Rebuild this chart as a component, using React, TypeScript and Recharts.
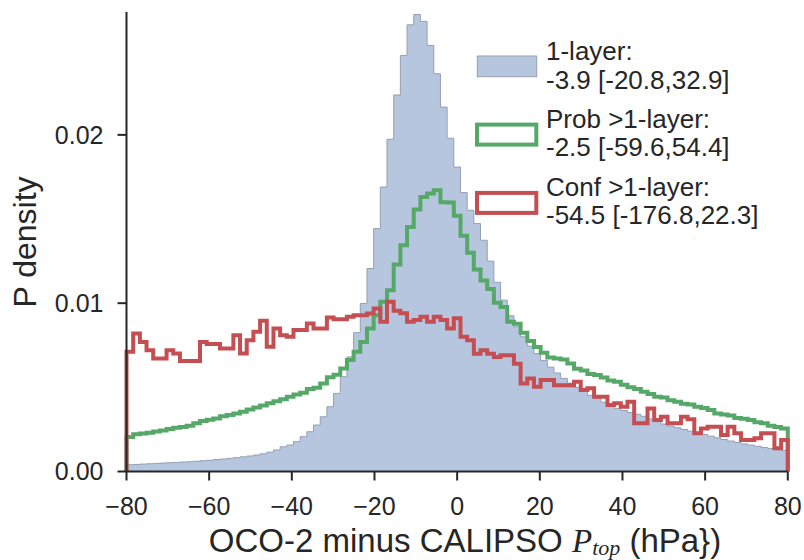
import React from 'react';
import { ComposedChart, Area, Line, XAxis, YAxis, Legend } from 'recharts';

// ---- data -------------------------------------------------------------
const X_MIN = -80;
const X_MAX = 80;
const N_BINS = 99;
const BIN_EDGES: number[] = Array.from({ length: N_BINS + 1 }, (_, i) => X_MIN + ((X_MAX - X_MIN) * i) / N_BINS);

const X_TICKS = [-80, -60, -40, -20, 0, 20, 40, 60, 80];
const Y_TICKS = [0, 0.01, 0.02];

// densities in units of 1e-2, one value per bin (left to right)
const ONE_LAYER = [
  0.040, 0.042, 0.044, 0.046, 0.048, 0.050, 0.052, 0.054, 0.056, 0.058,
  0.061, 0.064, 0.067, 0.071, 0.074, 0.078, 0.082, 0.087, 0.092, 0.098,
  0.105, 0.115, 0.128, 0.147, 0.157, 0.177, 0.207, 0.236, 0.276, 0.325,
  0.385, 0.464, 0.563, 0.681, 0.825, 0.998, 1.206, 1.443, 1.690, 1.974,
  2.237, 2.472, 2.654, 2.715, 2.674, 2.531, 2.363, 2.165, 1.980, 1.809,
  1.657, 1.552, 1.473, 1.374, 1.250, 1.124, 1.018, 0.925, 0.860, 0.800,
  0.745, 0.700, 0.660, 0.620, 0.585, 0.553, 0.525, 0.500, 0.475, 0.452,
  0.434, 0.412, 0.392, 0.375, 0.362, 0.350, 0.340, 0.328, 0.312, 0.296,
  0.282, 0.270, 0.260, 0.250, 0.240, 0.230, 0.220, 0.210, 0.200, 0.190,
  0.181, 0.172, 0.164, 0.157, 0.150, 0.143, 0.137, 0.131, 0.126,
];

const PROB_MULTI = [
  0.205, 0.222, 0.226, 0.230, 0.238, 0.244, 0.252, 0.260, 0.264, 0.272,
  0.286, 0.300, 0.308, 0.315, 0.328, 0.336, 0.345, 0.355, 0.368, 0.380,
  0.392, 0.405, 0.418, 0.430, 0.444, 0.458, 0.468, 0.490, 0.498, 0.523,
  0.560, 0.575, 0.612, 0.662, 0.711, 0.770, 0.850, 0.929, 1.008, 1.077,
  1.230, 1.344, 1.453, 1.557, 1.631, 1.651, 1.671, 1.600, 1.598, 1.520,
  1.400, 1.300, 1.200, 1.135, 1.085, 1.003, 0.978, 0.890, 0.878, 0.825,
  0.775, 0.740, 0.705, 0.678, 0.672, 0.665, 0.642, 0.610, 0.600, 0.580,
  0.573, 0.558, 0.540, 0.533, 0.515, 0.500, 0.490, 0.474, 0.460, 0.444,
  0.440, 0.424, 0.414, 0.402, 0.398, 0.385, 0.378, 0.365, 0.345, 0.338,
  0.332, 0.318, 0.314, 0.306, 0.292, 0.286, 0.272, 0.265, 0.256,
];

const CONF_MULTI = [
  0.711, 0.820, 0.770, 0.721, 0.672, 0.672, 0.721, 0.701, 0.656, 0.656,
  0.656, 0.770, 0.757, 0.757, 0.731, 0.731, 0.810, 0.701, 0.780, 0.830,
  0.895, 0.741, 0.850, 0.810, 0.800, 0.840, 0.840, 0.880, 0.850, 0.850,
  0.915, 0.905, 0.905, 0.919, 0.929, 0.929, 0.939, 0.969, 0.889, 1.008,
  0.955, 0.940, 0.890, 0.900, 0.920, 0.890, 0.920, 0.900, 0.850, 0.910,
  0.800, 0.780, 0.700, 0.720, 0.700, 0.680, 0.690, 0.690, 0.640, 0.523,
  0.553, 0.503, 0.543, 0.543, 0.513, 0.513, 0.513, 0.533, 0.484, 0.494,
  0.444, 0.444, 0.395, 0.405, 0.385, 0.414, 0.286, 0.286, 0.375, 0.306,
  0.325, 0.286, 0.286, 0.325, 0.310, 0.227, 0.256, 0.266, 0.266, 0.217,
  0.266, 0.227, 0.187, 0.187, 0.197, 0.227, 0.227, 0.138, 0.187,
];

const LEGEND_LABELS = ['1-layer:', 'Prob >1-layer:', 'Conf >1-layer:'];
const LEGEND_STATS = ['-3.9 [-20.8,32.9]', '-2.5 [-59.6,54.4]', '-54.5 [-176.8,22.3]'];
const X_LABEL_PRE = 'OCO-2 minus CALIPSO ';
const X_LABEL_VAR = 'P';
const X_LABEL_SUB = 'top';
const X_LABEL_POST = ' (hPa})';
const Y_LABEL = 'P density';

// ---- styling ----------------------------------------------------------
const BLUE_FILL = '#b7c6df';
const BLUE_EDGE = '#949fb2';
const GREEN = '#55a868';
const RED = '#c44e52';
const INK = '#262626';
const FONT = '"Liberation Sans", Arial, sans-serif';
const SERIF = '"Liberation Serif", "DejaVu Serif", serif';

const UNIT = 0.01;
const rows: { x: number; b: number; g: number; r: number }[] = [];
rows.push({ x: X_MIN, b: 0, g: 0, r: 0 });
BIN_EDGES.forEach((edge, i) => {
  const k = Math.min(i, N_BINS - 1);
  rows.push({ x: edge, b: ONE_LAYER[k] * UNIT, g: PROB_MULTI[k] * UNIT, r: CONF_MULTI[k] * UNIT });
});
rows.push({ x: X_MAX, b: 0, g: 0, r: 0 });

const fmtX = (v: number) => (v < 0 ? `\u2212${Math.abs(v)}` : `${v}`);
const fmtY = (v: number) => v.toFixed(2);

const LegendBox = () => {
  const pitch = 68.3;
  return (
    <svg width={334} height={215} style={{ display: 'block' }}>
      {LEGEND_LABELS.map((label, i) => {
        const cy = 36.3 + pitch * i;
        const b1 = 30 + 67.8 * i;
        return (
          <g key={label}>
            {i === 0 ? (
              <rect x={7.3} y={cy - 10.3} width={59.4} height={20.7} fill={BLUE_FILL} stroke={BLUE_EDGE} strokeWidth={1} />
            ) : (
              <rect x={7} y={cy - 10} width={59.3} height={20} fill="none" stroke={i === 1 ? GREEN : RED} strokeWidth={4} />
            )}
            <text x={76} y={b1} fontSize={26} fill={INK} fontFamily={FONT}>{label}</text>
            <text x={76} y={b1 + 28.5} fontSize={26} fill={INK} fontFamily={FONT}>{LEGEND_STATS[i]}</text>
          </g>
        );
      })}
    </svg>
  );
};

const XLabel = () => (
  <text x={465} y={552} textAnchor="middle" fontSize={33} fill={INK} fontFamily={FONT}>
    <tspan>{X_LABEL_PRE}</tspan>
    <tspan fontFamily={SERIF} fontStyle="italic">{X_LABEL_VAR}</tspan>
    <tspan fontFamily={SERIF} fontStyle="italic" fontSize={22} dy={3}>{X_LABEL_SUB}</tspan>
    <tspan dy={-3}>{X_LABEL_POST}</tspan>
  </text>
);

const YLabel = () => (
  <text x={36} y={242} transform="rotate(-90, 36, 242)" textAnchor="middle" fontSize={32} fill={INK} fontFamily={FONT}>
    {Y_LABEL}
  </text>
);

export default function App() {
  return (
    <div style={{ position: 'absolute', left: 0, top: 0, width: 804, height: 560, background: '#fff', fontFamily: FONT }}>
      <ComposedChart width={804} height={560} data={rows} margin={{ top: 12, right: 16.2, bottom: 28.5, left: 0 }}>
        <XAxis
          dataKey="x"
          type="number"
          domain={[X_MIN, X_MAX]}
          ticks={X_TICKS}
          tickFormatter={fmtX}
          height={60}
          tickSize={9}
          tickMargin={17}
          axisLine={{ stroke: INK, strokeWidth: 2 }}
          tickLine={{ stroke: INK, strokeWidth: 2 }}
          tick={{ fill: INK, fontSize: 25, fontFamily: FONT }}
          label={{ content: () => <XLabel /> }}
        />
        <YAxis
          type="number"
          domain={[0, 0.0273]}
          ticks={Y_TICKS}
          tickFormatter={fmtY}
          width={126.5}
          tickSize={9}
          tickMargin={14}
          axisLine={{ stroke: INK, strokeWidth: 2 }}
          tickLine={{ stroke: INK, strokeWidth: 2 }}
          tick={{ fill: INK, fontSize: 25, fontFamily: FONT }}
          label={{ content: () => <YLabel /> }}
        />
        <Area
          dataKey="b"
          type="stepAfter"
          fill={BLUE_FILL}
          fillOpacity={1}
          stroke={BLUE_EDGE}
          strokeWidth={1}
          isAnimationActive={false}
          dot={false}
          activeDot={false}
        />
        <Line
          dataKey="g"
          type="stepAfter"
          stroke={GREEN}
          strokeWidth={4}
          dot={false}
          activeDot={false}
          isAnimationActive={false}
        />
        <Line
          dataKey="r"
          type="stepAfter"
          stroke={RED}
          strokeWidth={4}
          dot={false}
          activeDot={false}
          isAnimationActive={false}
        />
        <Legend
          layout="horizontal"
          verticalAlign="middle"
          align="center"
          content={() => <LegendBox />}
          wrapperStyle={{ position: 'absolute', left: 470, top: 30, width: 334, height: 215 }}
        />
      </ComposedChart>
    </div>
  );
}
